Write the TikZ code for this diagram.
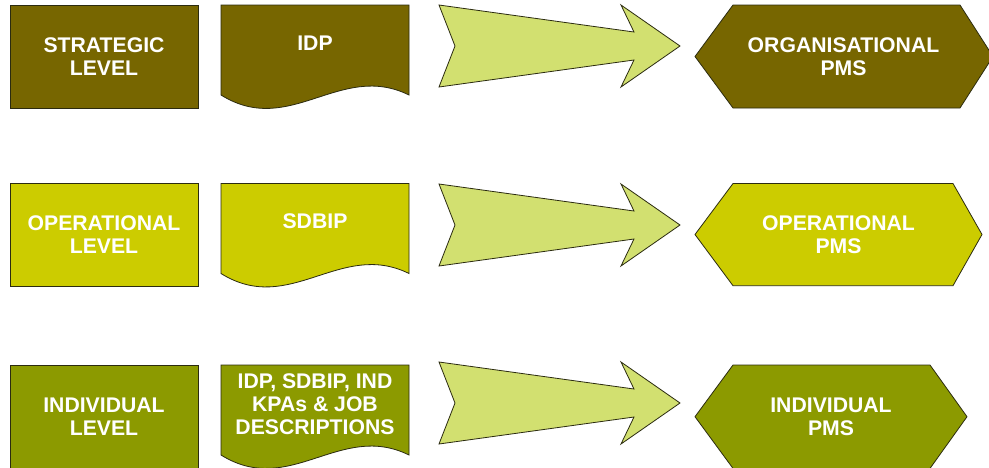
\documentclass[tikz,border=0pt]{standalone}
\usepackage{fontspec}
\setmainfont{Liberation Sans}
\definecolor{cA}{HTML}{776600}
\definecolor{cB}{HTML}{CCCC00}
\definecolor{cC}{HTML}{8C9A00}
\definecolor{cArrow}{HTML}{D2E070}
\definecolor{cEdge}{HTML}{2B2B10}
\tikzset{
  shapeline/.style={draw=cEdge, line width=0.8pt, line join=miter},
  lbl/.style={text=white, font=\fontsize{21.2}{23}\selectfont\bfseries, align=center, inner sep=0pt},
  levelbox/.style={shapeline, minimum width=188pt, minimum height=103pt, inner sep=0pt, text=white,
    font=\fontsize{21.2}{23}\selectfont\bfseries, align=center},
  bigarrow/.style={shapeline, fill=cArrow}
}
\begin{document}
\begin{tikzpicture}[x=1pt,y=-1pt]
\useasboundingbox (0,0) rectangle (989,467);
\fill[white] (0,0) rectangle (989,467);

% ---------- Row 1 ----------
\node[levelbox, fill=cA] (lvl1) at (104,56.5) {STRATEGIC\\LEVEL};
\draw[shapeline, fill=cA] (221,5) -- (409,5) -- (409,95)
  .. controls (340,61) and (290,138) .. (221,95) -- cycle;
\node[lbl] (doc1) at (315,43) {IDP};
\draw[bigarrow] (439,5) -- (634,32) -- (621,5) -- (680,46) -- (621,87) -- (634,60) -- (439,87) -- (455,46) -- cycle;
\draw[shapeline, fill=cA] (695,56.5) -- (733,5) -- (960,5) -- (993,56.5) -- (960,108) -- (733,108) -- cycle;
\node[lbl] (pms1) at (843.5,56.5) {ORGANISATIONAL\\PMS};

% ---------- Row 2 ----------
\node[levelbox, fill=cB] (lvl2) at (104,235) {OPERATIONAL\\LEVEL};
\draw[shapeline, fill=cB] (221,183.5) -- (409,183.5) -- (409,273.5)
  .. controls (340,239.5) and (290,316.5) .. (221,273.5) -- cycle;
\node[lbl] (doc2) at (315,221.5) {SDBIP};
\draw[bigarrow] (439,184) -- (634,211) -- (621,184) -- (680,225) -- (621,266) -- (634,239) -- (439,266) -- (455,225) -- cycle;
\draw[shapeline, fill=cB] (695,234.5) -- (733,183.5) -- (953,183.5) -- (982,234.5) -- (953,285.7) -- (733,285.7) -- cycle;
\node[lbl] (pms2) at (838.5,234.5) {OPERATIONAL\\PMS};

% ---------- Row 3 ----------
\node[levelbox, fill=cC] (lvl3) at (104,416.5) {INDIVIDUAL\\LEVEL};
\draw[shapeline, fill=cC] (221,365) -- (409,365) -- (409,455)
  .. controls (340,421) and (290,498) .. (221,455) -- cycle;
\node[lbl] (doc3) at (315,404) {IDP, SDBIP, IND\\KPAs \& JOB\\DESCRIPTIONS};
\draw[bigarrow] (439,362) -- (634,389) -- (621,362) -- (680,403) -- (621,444) -- (634,417) -- (439,444) -- (455,403) -- cycle;
\draw[shapeline, fill=cC] (695,416.7) -- (733,365) -- (930,365) -- (967,416.7) -- (930,468.4) -- (733,468.4) -- cycle;
\node[lbl] (pms3) at (831,416.7) {INDIVIDUAL\\PMS};
\end{tikzpicture}
\end{document}
